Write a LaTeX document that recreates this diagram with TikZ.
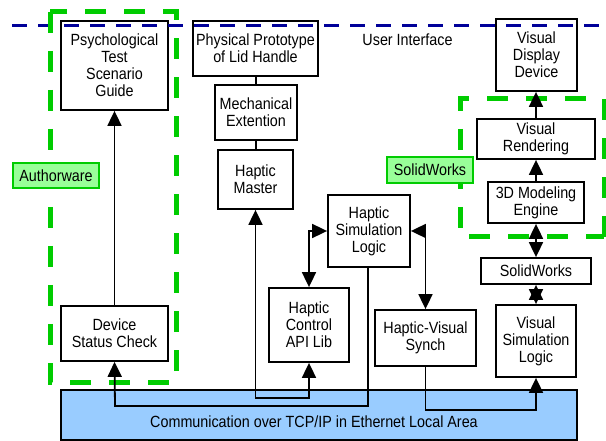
\documentclass[tikz,border=0pt]{standalone}
\usepackage{fontspec}
\setmainfont{Liberation Sans}[FakeStretch=0.885]
\usetikzlibrary{arrows.meta}
\definecolor{gdash}{RGB}{0,204,0}
\definecolor{glab}{RGB}{153,255,153}
\definecolor{bdash}{RGB}{0,0,153}
\definecolor{commfill}{RGB}{153,204,255}
\tikzset{
  box/.style={draw=black, fill=white, line width=1.8pt, inner sep=0pt, align=center,
    font=\fontsize{16.2}{17}\selectfont},
  lab/.style={draw=gdash, fill=glab, line width=1.2pt, inner sep=0pt, align=center,
    font=\fontsize{16.2}{17}\selectfont},
  conn/.style={line width=1.8pt, draw=black},
  tip/.tip={Triangle[length=15pt,width=14pt]},
  arr/.style={conn, -tip},
  darr/.style={conn, tip-tip},
  gbox/.style={draw=gdash, line width=5pt, dash pattern=on 21pt off 18pt},
  bline/.style={draw=bdash, line width=3pt, dash pattern=on 15pt off 11pt},
  txt/.style={font=\fontsize{16.2}{17}\selectfont, inner sep=0pt}
}
\begin{document}
\begin{tikzpicture}[x=1pt,y=-1pt]
\useasboundingbox (0,0) rectangle (606,441);
% communication bus
\node[box, fill=commfill, minimum width=516pt, minimum height=50pt] (comm) at (319,415) {};
\node[txt] (commtext) at (314,422) {Communication over TCP/IP in Ethernet Local Area};
% boxes
\node[box, minimum width=107pt, minimum height=89pt] (psy) at (114.5,65.5) {Psychological\\Test\\Scenario\\Guide};
\node[box, minimum width=107pt, minimum height=55pt] (dsc) at (114.5,333.5) {Device\\Status Check};
\node[box, minimum width=125pt, minimum height=55pt] (phys) at (255.5,48.5) {Physical Prototype\\of Lid Handle};
\node[box, minimum width=82pt, minimum height=55pt] (mech) at (256,112.5) {Mechanical\\Extention};
\node[box, minimum width=75pt, minimum height=59pt] (master) at (255.5,179.5) {Haptic\\Master};
\node[box, minimum width=82pt, minimum height=72pt] (hsl) at (369,231) {Haptic\\Simulation\\Logic};
\node[box, minimum width=80pt, minimum height=74pt] (api) at (309,325) {Haptic\\Control\\API Lib};
\node[box, minimum width=101pt, minimum height=56pt] (hvs) at (425.5,338) {Haptic-Visual\\Synch};
\node[box, minimum width=81pt, minimum height=72pt] (vdd) at (536.5,55) {Visual\\Display\\Device};
\node[box, minimum width=118pt, minimum height=40pt] (vr) at (536,139) {Visual\\Rendering};
\node[box, minimum width=96pt, minimum height=41pt] (dme) at (536,202.5) {3D Modeling\\Engine};
\node[box, minimum width=110pt, minimum height=26pt] (sw) at (536,271) {SolidWorks};
\node[box, minimum width=80pt, minimum height=72pt] (vsl) at (536,341) {Visual\\Simulation\\Logic};
% user interface line
\coordinate (uiL) at (12,26);
\coordinate (uiR) at (606,26);
\draw[bline] (uiL) -- (uiR);
\node[txt] (ui) at (407.5,40) {User Interface};
% green groups
\draw[gbox] (50,12) rectangle (176,382);
\draw[gbox] (604,237) -- (604,99) -- (460,99) -- (460,237) -- cycle;
\node[lab, minimum width=86pt, minimum height=25pt] (aw) at (56,175.5) {Authorware};
\node[lab, minimum width=86pt, minimum height=26pt] (swl) at (430,170) {SolidWorks};
% connectors
\draw[conn] (phys.south -| mech.north) -- (mech.north);
\draw[conn] (mech.south) -- (mech.south |- master.north);
\draw[arr] (dsc.north) -- (psy.south);
\draw[arr] ([xshift=-1pt]hsl.south) |- (115,406) -- (dsc.south);
\draw[darr] (master.south) |- (309,398) -- (api.south);
\draw[darr] (hsl.west) -| (api.north);
\draw[darr] (hsl.east) -| (hvs.north);
\draw[arr] (hvs.south) |- (536,410) -- (vsl.south);
\draw[arr] (vr.north) -- (vr.north |- vdd.south);
\draw[arr] (dme.north) -- (vr.south);
\draw[darr] (dme.south) -- (sw.north);
\draw[darr] (sw.south) -- (sw.south |- vsl.north);
\end{tikzpicture}
\end{document}
